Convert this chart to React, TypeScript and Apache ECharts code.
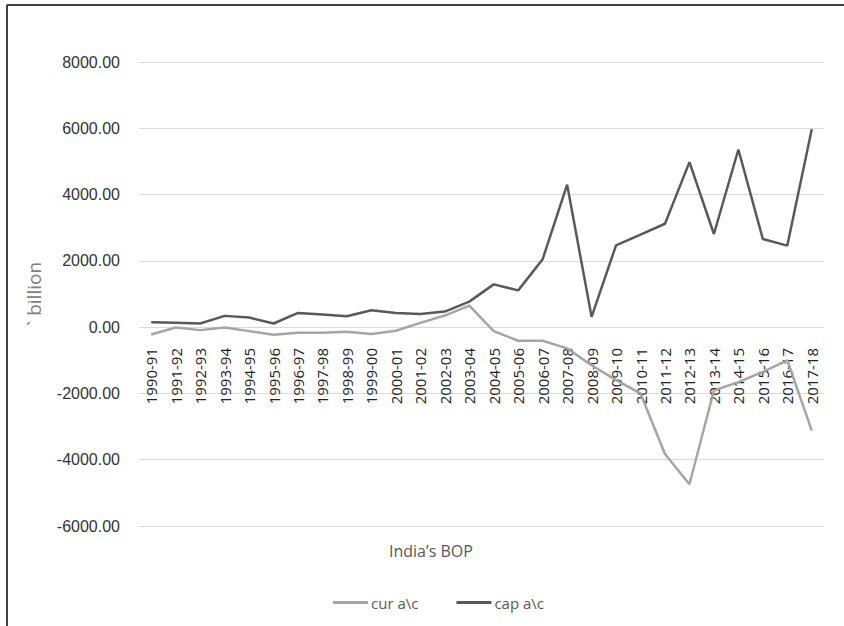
import { useEffect, useRef } from "react";
import * as echarts from "echarts";

const years = [
  "1990-91", "1991-92", "1992-93", "1993-94", "1994-95", "1995-96", "1996-97",
  "1997-98", "1998-99", "1999-00", "2000-01", "2001-02", "2002-03", "2003-04",
  "2004-05", "2005-06", "2006-07", "2007-08", "2008-09", "2009-10", "2010-11",
  "2011-12", "2012-13", "2013-14", "2014-15", "2015-16", "2016-17", "2017-18",
];

const curAc = [
  -220, -10, -90, -10, -120, -230, -170, -170, -140, -210, -110, 130, 350, 650,
  -120, -410, -410, -640, -1150, -1600, -2000, -3830, -4740, -1910, -1660,
  -1350, -1000, -3120,
];

const capAc = [
  150, 130, 110, 340, 290, 110, 430, 380, 330, 510, 430, 400, 470, 770, 1290,
  1110, 2050, 4300, 310, 2470, 2790, 3120, 4980, 2810, 5360, 2660, 2460, 5970,
];

const App = () => {
  const chartRef = useRef(null);

  useEffect(() => {
    let myChart: echarts.ECharts | null = null;
    if (chartRef.current) {
      myChart = echarts.init(chartRef.current, null, { renderer: "svg" });
      myChart.setOption({
        animation: false,
        title: {
          text: "India\u2019s BOP",
          left: 384,
          top: 538,
          textStyle: {
            fontFamily: "Open Sans",
            fontSize: 16,
            fontWeight: "normal",
            color: "#595959",
          },
        },
        legend: {
          data: ["cur a\\c", "cap a\\c"],
          left: 328,
          top: 590,
          icon: "rect",
          itemWidth: 35,
          itemHeight: 3,
          itemGap: 38,
          textStyle: { fontFamily: "Open Sans", fontSize: 15, color: "#595959", padding: [0, 0, 0, -2] },
        },
        grid: { left: 139, right: 20, top: 62, bottom: 100 },
        xAxis: {
          type: "category",
          data: years,
          boundaryGap: true,
          axisLine: { show: false },
          axisTick: { show: false },
          axisLabel: {
            rotate: 90,
            // labels sit just under the zero line
            margin: -178,
            interval: 0,
            fontFamily: "Open Sans",
            fontSize: 15,
            color: "#222",
          },
        },
        yAxis: {
          type: "value",
          min: -6000,
          max: 8000,
          interval: 2000,
          name: "` billion",
          nameLocation: "middle",
          nameRotate: 90,
          nameGap: 96,
          nameTextStyle: { fontFamily: "Open Sans", fontSize: 19, color: "#808080" },
          axisLabel: {
            formatter: (v: number) => v.toFixed(2),
            margin: 19,
            fontFamily: "Liberation Sans",
            fontSize: 16,
            color: "#333",
          },
          splitLine: { lineStyle: { color: "#d9d9d9", width: 1 } },
        },
        series: [
          {
            name: "cur a\\c",
            type: "line",
            data: curAc,
            symbol: "none",
            lineStyle: { color: "#a5a5a5", width: 2.5 },
            itemStyle: { color: "#a5a5a5" },
          },
          {
            name: "cap a\\c",
            type: "line",
            data: capAc,
            symbol: "none",
            lineStyle: { color: "#595959", width: 2.5 },
            itemStyle: { color: "#595959" },
          },
        ],
        graphic: [
          {
            type: "line",
            shape: { x1: 7, y1: 5, x2: 844, y2: 5 },
            style: { stroke: "#404040", lineWidth: 2 },
          },
          {
            type: "line",
            shape: { x1: 7, y1: 5, x2: 7, y2: 626 },
            style: { stroke: "#404040", lineWidth: 2 },
          },
        ],
      });
    }

    return () => {
      myChart && myChart.dispose();
    };
  }, []);

  return (
    <div
      ref={chartRef}
      style={{ position: "fixed", left: 0, top: 0, width: "844px", height: "626px", background: "#fff" }}
    ></div>
  );
};

export default App;
